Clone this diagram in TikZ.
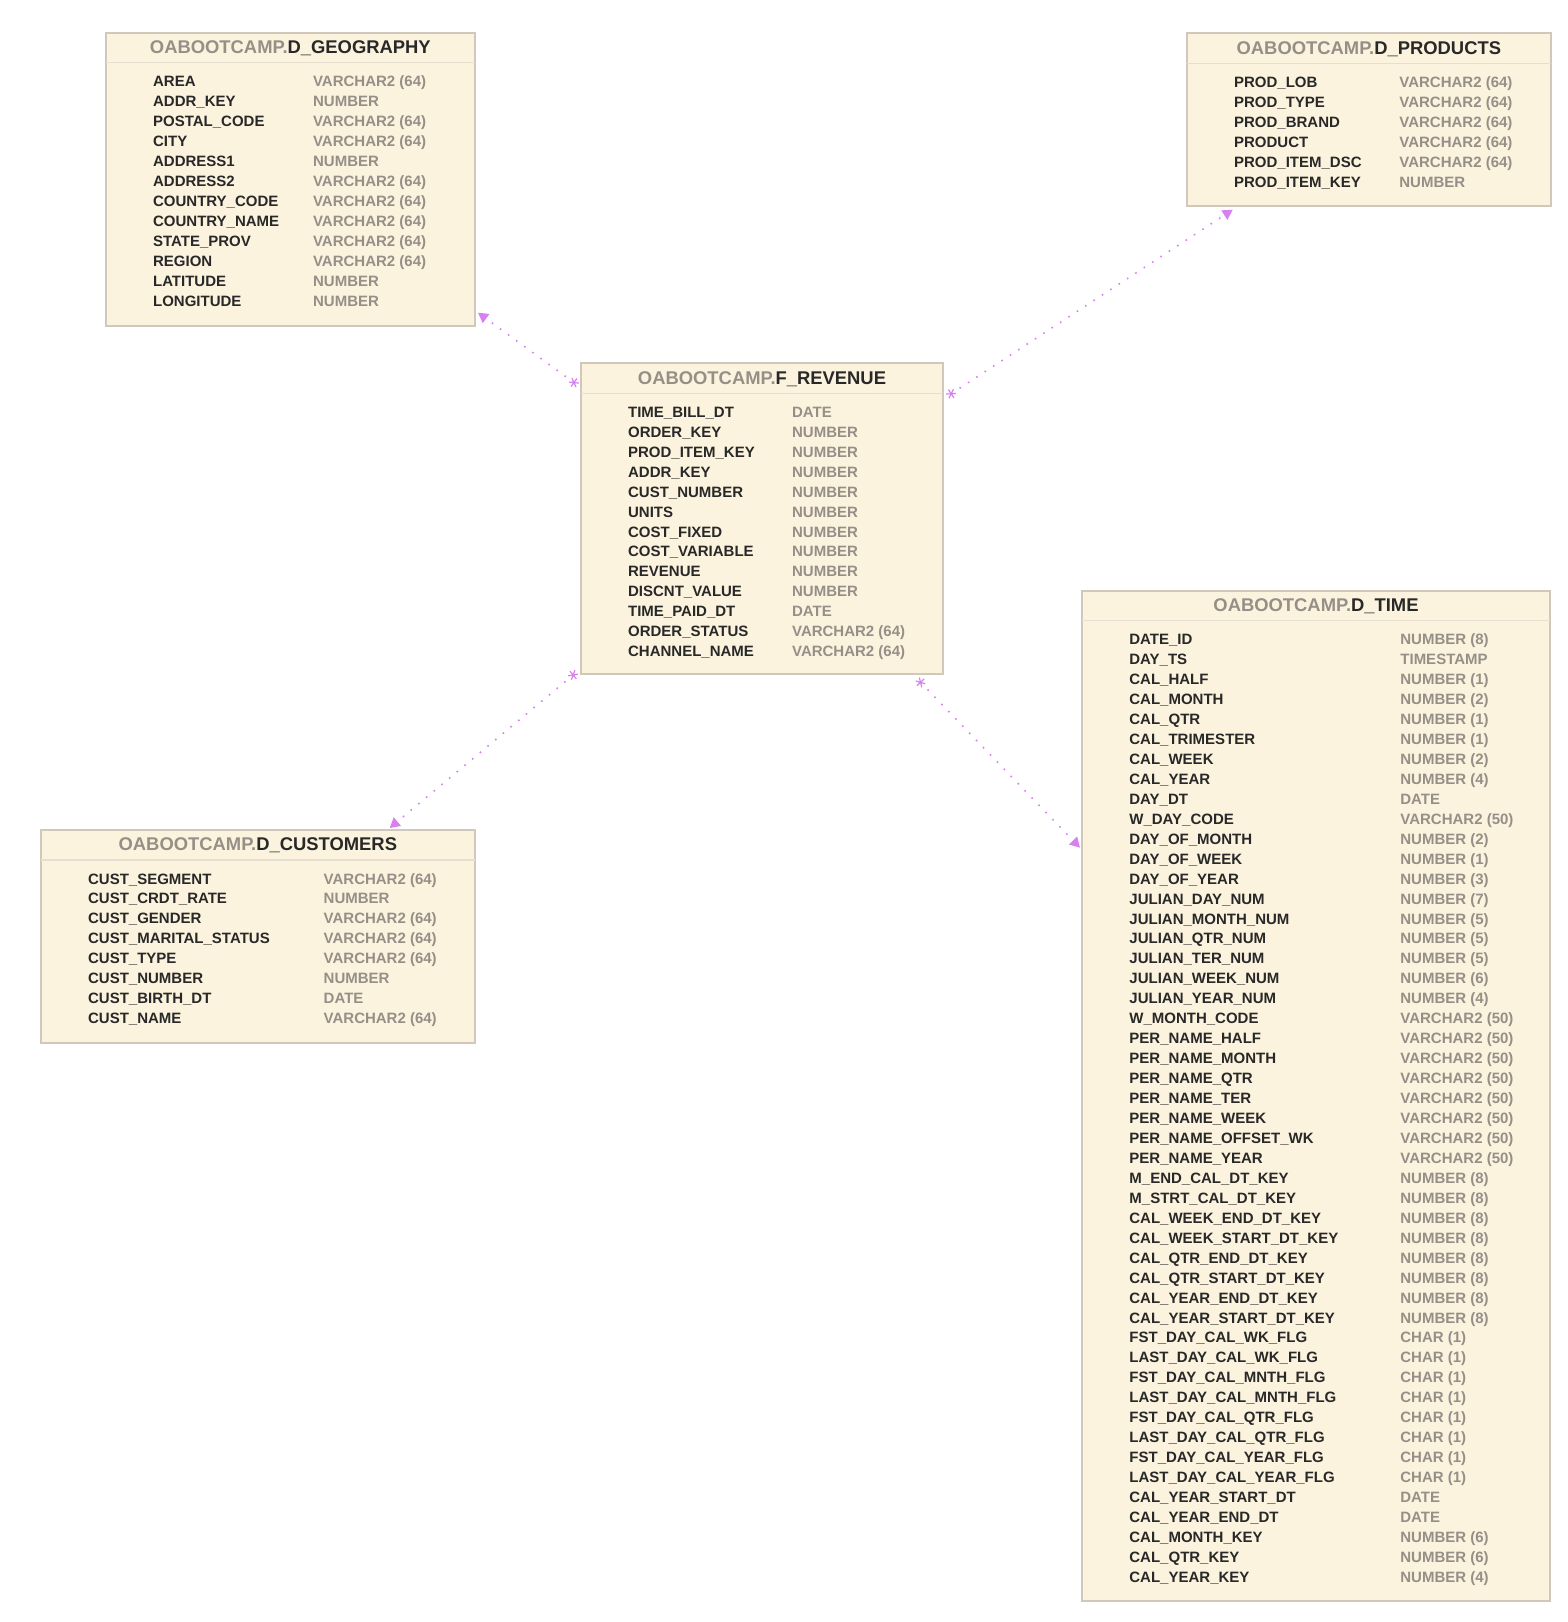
\documentclass[tikz,border=0pt]{standalone}
\usepackage{fontspec}
\setmainfont{Liberation Sans}
\usepackage{tikz}
\usetikzlibrary{arrows.meta}
\usetikzlibrary{calc}

\definecolor{boxfill}{RGB}{252,243,222}
\definecolor{boxline}{RGB}{208,200,187}
\definecolor{headline}{RGB}{230,222,206}
\definecolor{schemagray}{RGB}{150,143,135}
\definecolor{namedark}{RGB}{40,40,40}
\definecolor{linkviolet}{RGB}{216,128,240}

% #1 node, #2 left, #3 top, #4 width, #5 height, #6 table, #7 type column, #8 rows
\newcommand{\erdtable}[8]{%
\node[tablebox, minimum width=#4*0.5pt, minimum height=#5*0.5pt] (#1) at (#2,#3) {};
\node[tabletitle] (#1-title) at ($(#1.north)+(0,15.5)$)
  {\textcolor{schemagray}{OABOOTCAMP.}#6};
\draw[headline] ($(#1.north west)+(0,30)$) -- ($(#1.north east)+(0,30)$);
\foreach \colname/\coltype [count=\i] in {#8} {
  \node[colname] (#1-n\i) at ($(#1.north west)+(47,{54+19.95*(\i-1)})$) {\colname};
  \node[coltype] (#1-t\i) at ($(#1.north west)+(#7,{54+19.95*(\i-1)})$) {\coltype};
}}

\begin{document}
\begin{tikzpicture}[x=0.5pt,y=-0.5pt,
  tablebox/.style={draw=boxline, fill=boxfill, line width=1pt, anchor=north west,
    inner sep=0pt, outer sep=0pt},
  tabletitle/.style={font=\fontsize{9.2}{11}\selectfont\bfseries, text=namedark, inner sep=0pt},
  headline/.style={draw=headline, line width=0.6pt},
  colname/.style={font=\fontsize{7.5}{9}\selectfont\bfseries, text=namedark, anchor=base west,
    inner sep=0pt},
  coltype/.style={font=\fontsize{7.5}{9}\selectfont\bfseries, text=schemagray, anchor=base west,
    inner sep=0pt},
  link/.style={draw=linkviolet, line width=0.8pt, dash pattern=on 0.8pt off 4.2pt,
    {Rays[n=6,length=5pt,line width=0.6pt]}-{Triangle[length=5pt,width=5.5pt]}}]
\useasboundingbox (0,0) rectangle (1568,1622);

\erdtable{geo}{105.7}{32.7}{369.3}{293}{D\_GEOGRAPHY}{207}{%
AREA/VARCHAR2 (64), ADDR\_KEY/NUMBER, POSTAL\_CODE/VARCHAR2 (64), CITY/VARCHAR2 (64),
ADDRESS1/NUMBER, ADDRESS2/VARCHAR2 (64), COUNTRY\_CODE/VARCHAR2 (64),
COUNTRY\_NAME/VARCHAR2 (64), STATE\_PROV/VARCHAR2 (64), REGION/VARCHAR2 (64),
LATITUDE/NUMBER, LONGITUDE/NUMBER}

\erdtable{prod}{1186.7}{33.3}{364.3}{172.4}{D\_PRODUCTS}{212.3}{%
PROD\_LOB/VARCHAR2 (64), PROD\_TYPE/VARCHAR2 (64), PROD\_BRAND/VARCHAR2 (64),
PRODUCT/VARCHAR2 (64), PROD\_ITEM\_DSC/VARCHAR2 (64), PROD\_ITEM\_KEY/NUMBER}

\erdtable{rev}{580.7}{363.3}{362.6}{310.7}{F\_REVENUE}{211}{%
TIME\_BILL\_DT/DATE, ORDER\_KEY/NUMBER, PROD\_ITEM\_KEY/NUMBER, ADDR\_KEY/NUMBER,
CUST\_NUMBER/NUMBER, UNITS/NUMBER, COST\_FIXED/NUMBER, COST\_VARIABLE/NUMBER,
REVENUE/NUMBER, DISCNT\_VALUE/NUMBER, TIME\_PAID\_DT/DATE,
ORDER\_STATUS/VARCHAR2 (64), CHANNEL\_NAME/VARCHAR2 (64)}

\erdtable{cust}{40.7}{830}{434.3}{212.7}{D\_CUSTOMERS}{282.6}{%
CUST\_SEGMENT/VARCHAR2 (64), CUST\_CRDT\_RATE/NUMBER, CUST\_GENDER/VARCHAR2 (64),
CUST\_MARITAL\_STATUS/VARCHAR2 (64), CUST\_TYPE/VARCHAR2 (64), CUST\_NUMBER/NUMBER,
CUST\_BIRTH\_DT/DATE, CUST\_NAME/VARCHAR2 (64)}

\erdtable{time}{1082}{590.7}{468}{1010}{D\_TIME}{318}{%
DATE\_ID/NUMBER (8), DAY\_TS/TIMESTAMP, CAL\_HALF/NUMBER (1), CAL\_MONTH/NUMBER (2),
CAL\_QTR/NUMBER (1), CAL\_TRIMESTER/NUMBER (1), CAL\_WEEK/NUMBER (2), CAL\_YEAR/NUMBER (4),
DAY\_DT/DATE, W\_DAY\_CODE/VARCHAR2 (50), DAY\_OF\_MONTH/NUMBER (2),
DAY\_OF\_WEEK/NUMBER (1), DAY\_OF\_YEAR/NUMBER (3), JULIAN\_DAY\_NUM/NUMBER (7),
JULIAN\_MONTH\_NUM/NUMBER (5), JULIAN\_QTR\_NUM/NUMBER (5), JULIAN\_TER\_NUM/NUMBER (5),
JULIAN\_WEEK\_NUM/NUMBER (6), JULIAN\_YEAR\_NUM/NUMBER (4), W\_MONTH\_CODE/VARCHAR2 (50),
PER\_NAME\_HALF/VARCHAR2 (50), PER\_NAME\_MONTH/VARCHAR2 (50), PER\_NAME\_QTR/VARCHAR2 (50),
PER\_NAME\_TER/VARCHAR2 (50), PER\_NAME\_WEEK/VARCHAR2 (50),
PER\_NAME\_OFFSET\_WK/VARCHAR2 (50), PER\_NAME\_YEAR/VARCHAR2 (50),
M\_END\_CAL\_DT\_KEY/NUMBER (8), M\_STRT\_CAL\_DT\_KEY/NUMBER (8),
CAL\_WEEK\_END\_DT\_KEY/NUMBER (8), CAL\_WEEK\_START\_DT\_KEY/NUMBER (8),
CAL\_QTR\_END\_DT\_KEY/NUMBER (8), CAL\_QTR\_START\_DT\_KEY/NUMBER (8),
CAL\_YEAR\_END\_DT\_KEY/NUMBER (8), CAL\_YEAR\_START\_DT\_KEY/NUMBER (8),
FST\_DAY\_CAL\_WK\_FLG/CHAR (1), LAST\_DAY\_CAL\_WK\_FLG/CHAR (1),
FST\_DAY\_CAL\_MNTH\_FLG/CHAR (1), LAST\_DAY\_CAL\_MNTH\_FLG/CHAR (1),
FST\_DAY\_CAL\_QTR\_FLG/CHAR (1), LAST\_DAY\_CAL\_QTR\_FLG/CHAR (1),
FST\_DAY\_CAL\_YEAR\_FLG/CHAR (1), LAST\_DAY\_CAL\_YEAR\_FLG/CHAR (1),
CAL\_YEAR\_START\_DT/DATE, CAL\_YEAR\_END\_DT/DATE, CAL\_MONTH\_KEY/NUMBER (6),
CAL\_QTR\_KEY/NUMBER (6), CAL\_YEAR\_KEY/NUMBER (4)}

% relations
\draw[link] ($(rev.north west)+(-3,22)$) -- ($(geo.south east)+(3,-13)$);
\draw[link] ($(rev.north east)+(4,33)$) -- ($(prod.south west)+(46,4)$);
\draw[link] ($(rev.south west)+(-4,-2)$) -- ($(cust.north west)+(349,-2)$);
\draw[link] ($(rev.south east)+(-26,5)$) -- ($(time.north west)+(-2,257)$);
\end{tikzpicture}
\end{document}
